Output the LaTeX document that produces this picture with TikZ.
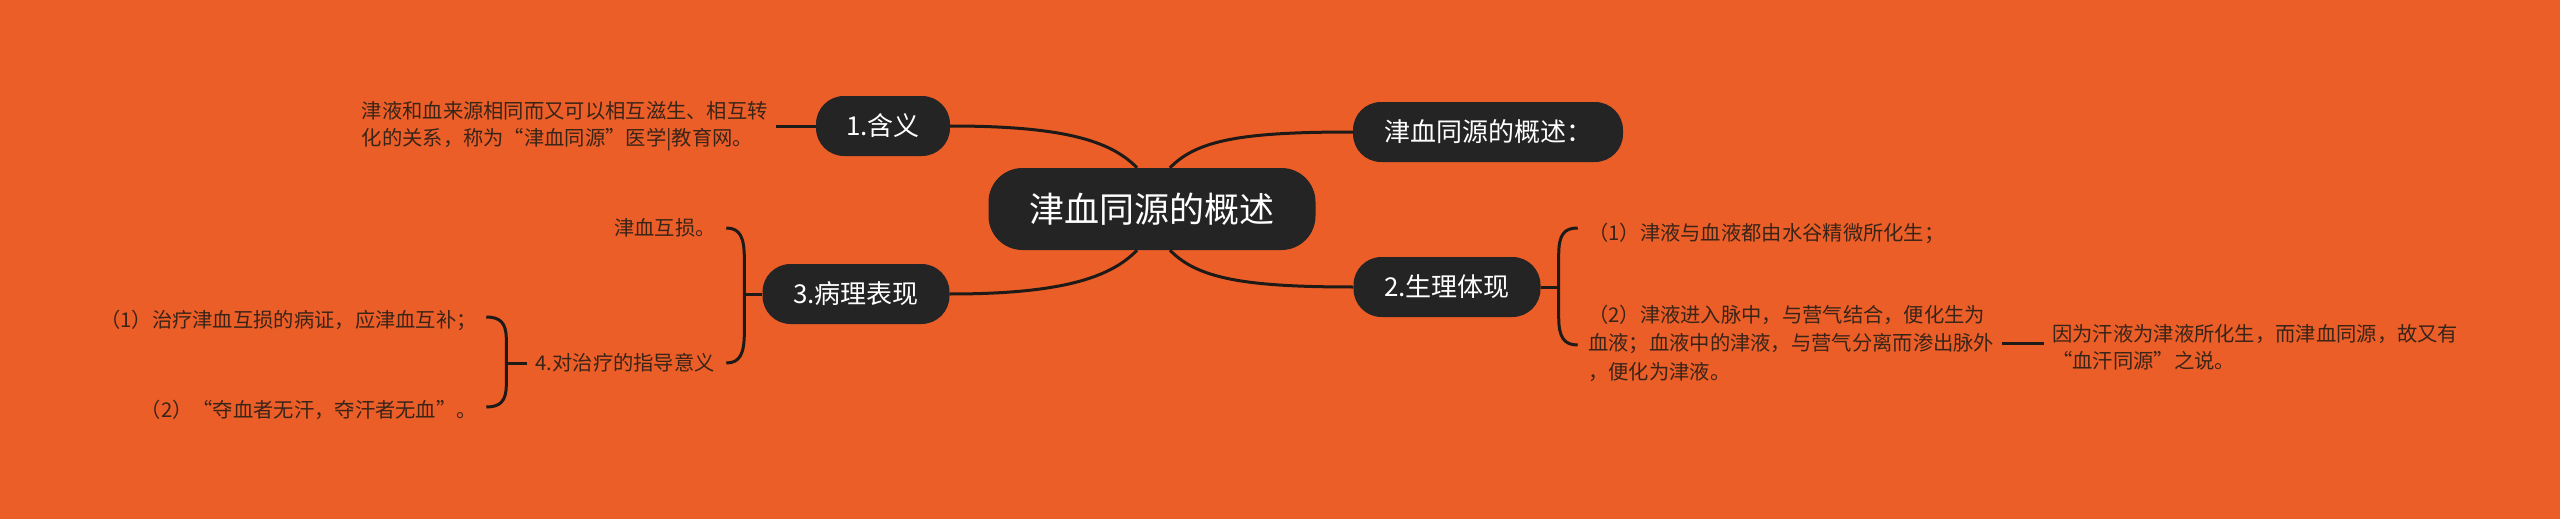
\documentclass[tikz,border=0pt]{standalone}
\usepackage{fontspec}
\setmainfont{Noto Sans CJK SC}
\usetikzlibrary{calc}
\definecolor{bg}{HTML}{EB5E28}
\definecolor{nodefill}{HTML}{242424}
\definecolor{linec}{HTML}{1E1A18}
\definecolor{leafc}{HTML}{3A2418}
\begin{document}
\begin{tikzpicture}[x=1pt,y=-1pt,
  hub/.style={fill=nodefill, text=white, rounded corners=34pt, minimum width=327pt, minimum height=82pt, inner sep=0pt, font=\fontsize{35}{40}\selectfont},
  topic/.style={fill=nodefill, text=white, rounded corners=28pt, minimum height=60pt, inner sep=0pt, font=\fontsize{26}{30}\selectfont},
  leaf/.style={text=leafc, inner xsep=8pt, inner ysep=0pt, align=left, font=\fontsize{20.3}{27}\selectfont},
  conn/.style={draw=linec, line width=3pt},
]
\fill[bg] (0,0) rectangle (2560,519);
\useasboundingbox (0,0) rectangle (2560,519);

% main nodes
\node[hub] (c) at (1152,209) {津血同源的概述};
\node[topic, minimum width=134pt] (n1) at (883,126) {1.含义};
\node[topic, minimum width=270pt] (n0) at (1488,132) {津血同源的概述：};
\node[topic, minimum width=187pt] (n2) at (1447,287) {2.生理体现};
\node[topic, minimum width=187pt] (n3) at (856,294) {3.病理表现};

% leaves
\node[leaf, anchor=east] (t1) at (776,126) {津液和血来源相同而又可以相互滋生、相互转\\化的关系，称为“津血同源”医学|教育网。};
\node[leaf, anchor=west] (t2a) at (1580,233) {（1）津液与血液都由水谷精微所化生；};
\node[leaf, anchor=west, font=\fontsize{20.3}{28.5}\selectfont] (t2b) at (1580,343) {（2）津液进入脉中，与营气结合，便化生为\\血液；血液中的津液，与营气分离而渗出脉外\\，便化为津液。};
\node[leaf, anchor=west] (t2c) at (2044,347) {因为汗液为津液所化生，而津血同源，故又有\\“血汗同源”之说。};
\node[leaf, anchor=east] (t3a) at (724,228) {津血互损。};
\node[leaf, anchor=east] (t3b) at (723,363) {4.对治疗的指导意义};
\node[leaf, anchor=east] (t4a) at (485,320) {（1）治疗津血互损的病证，应津血互补；};
\node[leaf, anchor=east] (t4b) at (485,410) {（2）“夺血者无汗，夺汗者无血”。};

% connectors from hub
\draw[conn] ($(c.north)+(-15,0)$) .. controls +(-27,-28) and +(110,0) .. (n1.east);
\draw[conn] ($(c.north)+(18,0)$) .. controls +(27,-28) and +(-110,0) .. (n0.west);
\draw[conn] ($(c.south)+(-15,0)$) .. controls +(-27,28) and +(110,0) .. (n3.east);
\draw[conn] ($(c.south)+(18,0)$) .. controls +(27,28) and +(-110,0) .. (n2.west);

% 1.含义
\draw[conn] (n1.west) -- (t1.east);

% 2.生理体现 brace
\draw[conn] (n2.east) -- ++(18,0) coordinate (b2);
\draw[conn] ($(b2)+(19,-59)$) .. controls +(-14,0) and +(0,-20) .. ($(b2)+(0,-32)$) -- ($(b2)+(0,30)$) .. controls +(0,20) and +(-14,0) .. ($(b2)+(19,58)$);
\draw[conn] (t2b.east) -- (t2b.east -| t2c.west);

% 3.病理表现 brace
\draw[conn] (n3.west) -- ++(-18,0) coordinate (b3);
\draw[conn] ($(b3)+(-18,-66)$) .. controls +(14,0) and +(0,-20) .. ($(b3)+(0,-36)$) -- ($(b3)+(0,39)$) .. controls +(0,20) and +(14,0) .. ($(b3)+(-18,69)$);

% 4 brace
\draw[conn] (t3b.west) -- ++(-21,0) coordinate (b4);
\draw[conn] ($(b4)+(-20,-46)$) .. controls +(14,0) and +(0,-16) .. ($(b4)+(0,-24)$) -- ($(b4)+(0,22)$) .. controls +(0,16) and +(14,0) .. ($(b4)+(-20,44)$);
\end{tikzpicture}
\end{document}
